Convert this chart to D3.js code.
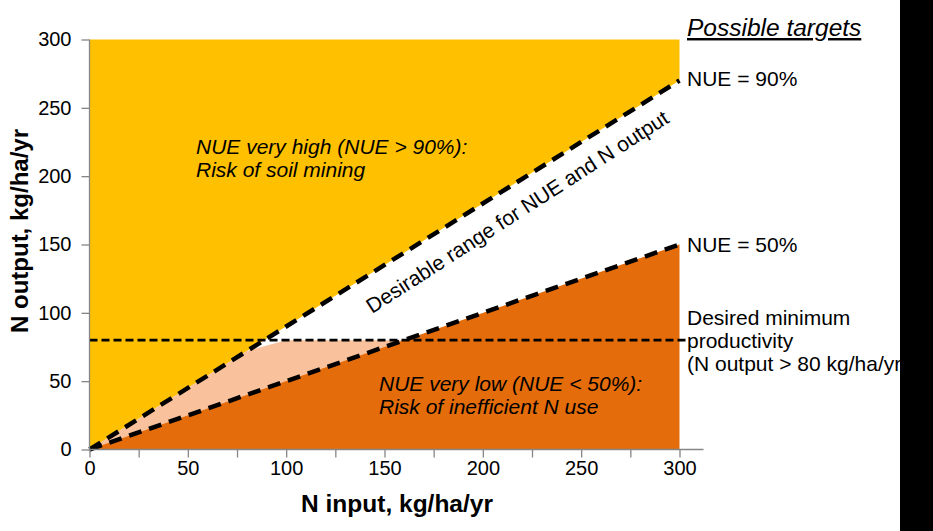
<!DOCTYPE html>
<html>
<head>
<meta charset="utf-8">
<script src="https://cdn.jsdelivr.net/npm/d3@7"></script>
<style>
  body { margin: 0; background: #fff; }
  text { font-family: "Liberation Sans", Arial, sans-serif; }
</style>
</head>
<body>
<div id="chart"></div>
<script>
// chart values
var nInput = [0, 300];            // x range of the NUE lines
var nueTargets = [0.9, 0.5];      // NUE = 90%, NUE = 50%
var minOutput = 80;               // desired minimum productivity
var axisMax = 300;
var xTicks = [0, 25, 50, 75, 100, 125, 150, 175, 200, 225, 250, 275, 300];
var yTicks = [0, 50, 100, 150, 200, 250, 300];
// light band below min output, between the two NUE lines
var lowBandX = [0, 80, 100, 160];
var lowBandY = [0, 72, 80, 80];

var width = 933;
var height = 531;

var svg = d3
  .select("#chart")
  .append("svg")
  .attr("width", width)
  .attr("height", height);

var x = d3.scaleLinear().domain([0, axisMax]).range([89.5, 679.5]);
var y = d3.scaleLinear().domain([0, axisMax]).range([449.5, 39.5]);

var poly = d3
  .line()
  .x((d) => x(d[0]))
  .y((d) => y(d[1]));

var x0 = nInput[0];
var x1 = nInput[1];

// NUE very high area (above 90% line)
svg
  .append("path")
  .attr("d", poly([[x0, 0], [x1, x1 * nueTargets[0]], [x1, axisMax], [x0, axisMax]]) + "Z")
  .style("fill", "#FFC000");

// light band below minimum output
var band = lowBandX.map((v, i) => [v, lowBandY[i]]);
band.push([lowBandX[lowBandX.length - 1], 0]);
svg
  .append("path")
  .attr("d", poly(band) + "Z")
  .style("fill", "#F9C29C");

// NUE very low area (below 50% line)
svg
  .append("path")
  .attr("d", poly([[x0, 0], [x1, x1 * nueTargets[1]], [x1, 0]]) + "Z")
  .style("fill", "#E46C0A");

// NUE target lines
nueTargets.forEach(function (n) {
  svg
    .append("path")
    .attr("d", poly([[x0, x0 * n], [x1, x1 * n]]))
    .style("fill", "none")
    .style("stroke", "#000")
    .style("stroke-width", 4.5)
    .style("stroke-dasharray", "13,8");
});

// minimum output line
svg
  .append("line")
  .attr("x1", x(x0))
  .attr("x2", x(x1) + 6)
  .attr("y1", y(minOutput))
  .attr("y2", y(minOutput))
  .style("stroke", "#000")
  .style("stroke-width", 2.7)
  .style("stroke-dasharray", "8,4");

// axes
var xAxis = svg
  .append("g")
  .attr("transform", "translate(0," + y(0) + ")")
  .call(
    d3
      .axisBottom(x)
      .tickValues(xTicks)
      .tickSize(8)
      .tickPadding(3)
      .tickFormat((d) => (d % 50 === 0 ? d : ""))
  );
xAxis.select(".domain").remove();
xAxis
  .append("line")
  .attr("x1", x(0))
  .attr("x2", x(axisMax) + 24)
  .style("stroke", "#868686")
  .style("stroke-width", 1.3);

var yAxis = svg
  .append("g")
  .attr("transform", "translate(" + x(0) + ",0)")
  .call(d3.axisLeft(y).tickValues(yTicks).tickSize(8).tickPadding(10));
yAxis.select(".domain").remove();
yAxis
  .append("line")
  .attr("y1", y(0))
  .attr("y2", y(axisMax))
  .style("stroke", "#868686")
  .style("stroke-width", 1.3);

svg.selectAll(".tick line").style("stroke", "#868686").style("stroke-width", 1.3);
svg
  .selectAll(".tick text")
  .style("font-size", "20px")
  .style("font-family", "Liberation Sans, Arial, sans-serif")
  .style("fill", "#000");

// axis titles
svg
  .append("text")
  .attr("x", 397)
  .attr("y", 512)
  .attr("text-anchor", "middle")
  .style("font-size", "24.5px")
  .style("font-weight", "bold")
  .text("N input, kg/ha/yr");

svg
  .append("text")
  .attr("transform", "translate(28,231) rotate(-90)")
  .attr("text-anchor", "middle")
  .style("font-size", "24px")
  .style("font-weight", "bold")
  .text("N output, kg/ha/yr");

// annotations inside the plot
function lines(xp, yp, arr, italic) {
  arr.forEach(function (t, i) {
    svg
      .append("text")
      .attr("x", xp)
      .attr("y", yp + i * 23)
      .style("font-size", "21px")
      .style("font-style", italic ? "italic" : "normal")
      .text(t);
  });
}

lines(196, 154, ["NUE very high (NUE > 90%):", "Risk of soil mining"], true);
lines(379, 391, ["NUE very low (NUE < 50%):", "Risk of inefficient N use"], true);

svg
  .append("text")
  .attr("transform", "translate(372,314) rotate(-32.8)")
  .style("font-size", "21px")
  .text("Desirable range for NUE and N output");

// right side labels
svg
  .append("text")
  .attr("x", 687)
  .attr("y", 36)
  .style("font-size", "24.5px")
  .style("font-style", "italic")
  .style("text-decoration", "underline")
  .text("Possible targets");

lines(687, 86, ["NUE  = 90%"], false);
lines(687, 252, ["NUE  = 50%"], false);
lines(687, 325, ["Desired minimum", "productivity", "(N output > 80 kg/ha/yr)"], false);

// black strip on the right edge
svg
  .append("rect")
  .attr("x", 900)
  .attr("y", 0)
  .attr("width", width - 900)
  .attr("height", height)
  .style("fill", "#000");
</script>
</body>
</html>
